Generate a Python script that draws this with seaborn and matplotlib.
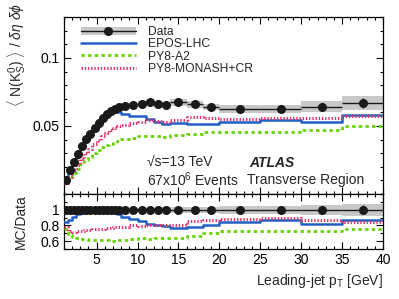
import numpy as np
import matplotlib
matplotlib.use("Agg")
import matplotlib.pyplot as plt
import seaborn as sns
from matplotlib.lines import Line2D
from matplotlib.patches import Patch
from matplotlib.ticker import MultipleLocator, FixedLocator, FuncFormatter

# leading-jet pT bins [GeV]
bin_edges = [1, 1.5, 2, 2.5, 3, 3.5, 4, 4.5, 5, 5.5, 6, 6.5, 7, 7.5, 8,
             9, 10, 11, 12, 13, 14, 16, 18, 20, 25, 30, 35, 40]

# <N(K0S)> / deta dphi, transverse region
data = [0.0105, 0.0176, 0.0232, 0.0293, 0.0354, 0.0403, 0.0444, 0.0488, 0.0525,
        0.0560, 0.0589, 0.0611, 0.0626, 0.0637, 0.0648, 0.0651, 0.0664, 0.0675,
        0.0659, 0.0654, 0.0675, 0.0659, 0.0640, 0.0627, 0.0627, 0.0642, 0.0671]
data_stat = [0.0002, 0.0002, 0.0002, 0.0002, 0.0002, 0.0002, 0.0002, 0.0002, 0.0003,
             0.0003, 0.0003, 0.0003, 0.0003, 0.0003, 0.0003, 0.0004, 0.0004, 0.0005,
             0.0005, 0.0006, 0.0006, 0.0008, 0.0010, 0.0010, 0.0015, 0.0022, 0.0037]
data_tot = [0.0004, 0.0005, 0.0006, 0.0007, 0.0008, 0.0009, 0.0010, 0.0010, 0.0011,
            0.0012, 0.0012, 0.0013, 0.0013, 0.0014, 0.0014, 0.0015, 0.0016, 0.0017,
            0.0018, 0.0019, 0.0025, 0.0025, 0.0025, 0.0030, 0.0030, 0.0043, 0.0052]

epos_lhc = [0.0089, 0.0153, 0.0211, 0.0278, 0.0345, 0.0399, 0.0444, 0.0488, 0.0525,
            0.0557, 0.0580, 0.0596, 0.0607, 0.0605, 0.0590, 0.0573, 0.0571, 0.0554,
            0.0530, 0.0517, 0.0520, 0.0514, 0.0518, 0.0527, 0.0545, 0.0526, 0.0580]
py8_a2 = [0.0079, 0.0120, 0.0151, 0.0186, 0.0223, 0.0252, 0.0275, 0.0303, 0.0326,
          0.0344, 0.0362, 0.0370, 0.0376, 0.0389, 0.0402, 0.0413, 0.0425, 0.0425,
          0.0425, 0.0422, 0.0435, 0.0438, 0.0454, 0.0458, 0.0458, 0.0469, 0.0503]
py8_monash = [0.0082, 0.0128, 0.0167, 0.0214, 0.0260, 0.0298, 0.0331, 0.0366, 0.0396,
              0.0426, 0.0451, 0.0470, 0.0485, 0.0497, 0.0509, 0.0521, 0.0531, 0.0547,
              0.0534, 0.0530, 0.0543, 0.0563, 0.0557, 0.0552, 0.0558, 0.0559, 0.0570]

models = [("EPOS-LHC", epos_lhc, "#2360c4", "-", 1.8),
          ("PY8-A2", py8_a2, "#66d400", (0, (1.2, 1.2)), 2.0),
          ("PY8-MONASH+CR", py8_monash, "#e63468", (0, (0.45, 0.6)), 2.2)]

sns.set_theme(style="ticks")
plt.rcParams["font.family"] = ["Liberation Sans", "DejaVu Sans"]
plt.rcParams.update({"mathtext.fontset": "custom", "mathtext.rm": "Liberation Sans",
                     "mathtext.it": "Liberation Sans:italic", "mathtext.bf": "Liberation Sans:bold",
                     "font.size": 10, "axes.edgecolor": "black", "axes.linewidth": 0.9})

edges = np.array(bin_edges)
centers = 0.5 * (edges[1:] + edges[:-1])
widths = np.diff(edges)
d = np.array(data)
tot = np.array(data_tot)


def steps(vals):
    return np.repeat(edges, 2)[1:-1], np.repeat(np.asarray(vals), 2)


fig = plt.figure(figsize=(3.99, 2.99), dpi=100)
ax = fig.add_axes([0.160, 0.351, 0.800, 0.592])
rax = fig.add_axes([0.160, 0.167, 0.800, 0.184], sharex=ax)

# main panel
ax.bar(centers, 2 * tot, width=widths, bottom=d - tot, color="#c8c8c8", lw=0, zorder=1)
for name, vals, col, ls, lw in models:
    x, y = steps(vals)
    sns.lineplot(x=x, y=y, sort=False, estimator=None, ax=ax, color=col, lw=lw,
                 linestyle=ls, zorder=3)
ax.errorbar(centers, d, xerr=widths / 2, yerr=data_stat, fmt="o", color="k", ms=5.5,
            lw=1, capsize=0, zorder=5)

# ratio panel
rax.bar(centers, 2 * tot / d, width=widths, bottom=1 - tot / d, color="#c8c8c8", lw=0, zorder=1)
for name, vals, col, ls, lw in models:
    x, y = steps(np.asarray(vals) / d)
    sns.lineplot(x=x, y=y, sort=False, estimator=None, ax=rax, color=col, lw=lw,
                 linestyle=ls, zorder=3)
rax.errorbar(centers, np.ones_like(d), xerr=widths / 2, yerr=np.array(data_stat) / d,
             fmt="o", color="k", ms=5.5, lw=1, capsize=0, zorder=5)

for a in (ax, rax):
    a.set_xlim(1, 40)
    a.xaxis.set_major_locator(MultipleLocator(5))
    a.xaxis.set_minor_locator(MultipleLocator(1))
    a.tick_params(which="both", direction="in", top=True, right=True, colors="black",
                  labelsize=10, pad=3)
    a.tick_params(which="major", length=5, width=0.8)
    a.tick_params(which="minor", length=2.5, width=0.8)

ax.set_ylim(0, 0.13)
ax.yaxis.set_major_locator(FixedLocator([0.05, 0.1]))
ax.yaxis.set_minor_locator(MultipleLocator(0.01))
ax.yaxis.set_major_formatter(FuncFormatter(lambda v, p: f"{v:g}"))
ax.tick_params(labelbottom=False)
ax.set_xlabel("")
ax.set_ylabel(r"$\langle$ N(K$^{0}_{S}$) $\rangle$ / $\delta\eta\ \delta\phi$", ha="right",
              fontsize=10)
ax.yaxis.set_label_coords(-0.113, 1.08)

rax.set_ylim(0.5, 1.2)
rax.yaxis.set_major_locator(FixedLocator([0.6, 0.8, 1.0]))
rax.yaxis.set_minor_locator(MultipleLocator(0.1))
rax.yaxis.set_major_formatter(FuncFormatter(lambda v, p: f"{v:g}"))
rax.set_ylabel("MC/Data", fontsize=10)
rax.yaxis.set_label_coords(-0.113, 0.5)
rax.set_xlabel(r"Leading-jet p$_{\mathrm{T}}$ [GeV]", ha="right", fontsize=10)
rax.xaxis.set_label_coords(1.0, -0.42)

handles = [(Patch(facecolor="#c8c8c8", lw=0),
            Line2D([], [], color="k", marker="o", ms=5.5, lw=1))]
labels = ["Data"]
for name, vals, col, ls, lw in models:
    handles.append(Line2D([], [], color=col, linestyle=ls, lw=lw))
    labels.append(name)
ax.legend(handles, labels, loc="upper left", bbox_to_anchor=(0.03, 0.99), frameon=False,
          fontsize=8.7, handlelength=4.6, handletextpad=1.0, labelspacing=0.02,
          borderaxespad=0.2)

ax.text(0.262, 0.175, "√s=13 TeV", transform=ax.transAxes, fontsize=10, va="center")
ax.text(0.262, 0.08, r"67x10$^{6}$ Events", transform=ax.transAxes, fontsize=10, va="center")
ax.text(0.58, 0.175, "ATLAS", transform=ax.transAxes, fontsize=10, va="center",
        fontweight="bold", fontstyle="italic")
ax.text(0.575, 0.08, "Transverse Region", transform=ax.transAxes, fontsize=10, va="center")

fig.savefig("out.png", dpi=100)
